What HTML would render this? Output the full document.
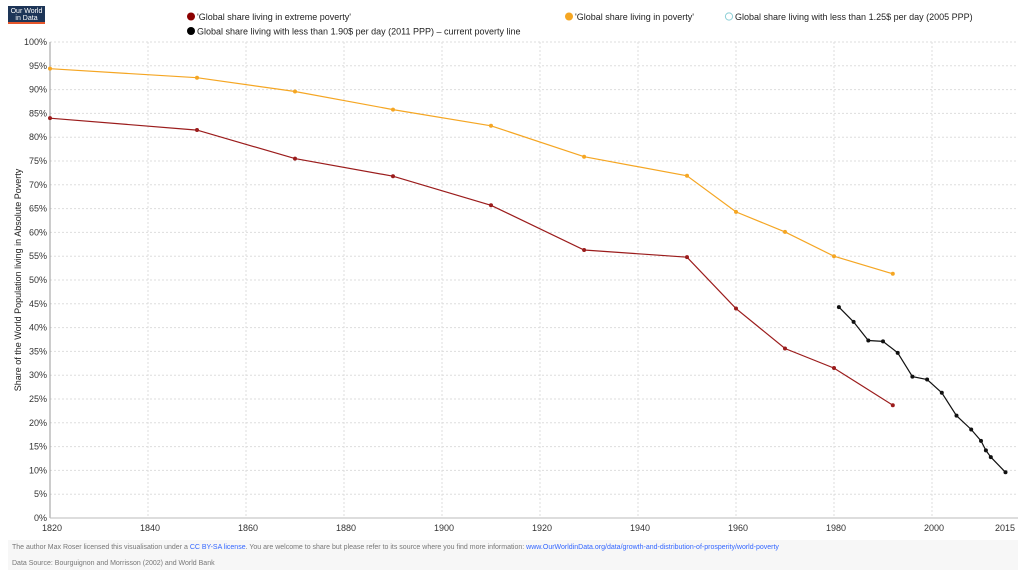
<!DOCTYPE html>
<html><head><meta charset="utf-8"><style>
body{margin:0;background:#fff;font-family:"Liberation Sans",sans-serif;}
svg text{font-family:"Liberation Sans",sans-serif;}
</style></head><body>
<svg id="s" width="1024" height="576" xmlns="http://www.w3.org/2000/svg">
<rect x="8" y="6" width="37" height="18" fill="#1d3557"/>
<rect x="8" y="22" width="37" height="2" fill="#e5562b"/>
<text x="26.5" y="13" font-size="7" fill="#fff" text-anchor="middle">Our World</text>
<text x="26.5" y="20" font-size="7" fill="#fff" text-anchor="middle">in Data</text>
<circle cx="191" cy="16.5" r="4" fill="#8b0000"/><text x="197" y="20" font-size="9" fill="#222">'Global share living in extreme poverty'</text>
<circle cx="191" cy="31" r="4" fill="#000"/><text x="197" y="34.5" font-size="9" fill="#222">Global share living with less than 1.90$ per day (2011 PPP) – current poverty line</text>
<circle cx="569" cy="16.5" r="4" fill="#f5a623"/><text x="575" y="20" font-size="9" fill="#222">'Global share living in poverty'</text>
<circle cx="729" cy="16.5" r="3.6" fill="#fff" stroke="#8ccfd6" stroke-width="1"/><text x="735" y="20" font-size="9" fill="#222">Global share living with less than 1.25$ per day (2005 PPP)</text>
<text transform="translate(21,280) rotate(-90)" font-size="9" fill="#222" text-anchor="middle">Share of the World Population living in Absolute Poverty</text>
<rect x="8" y="540" width="1010" height="30" fill="#f7f7f7"/>
<text x="12" y="549" font-size="7" fill="#777">The author Max Roser licensed this visualisation under a <tspan fill="#3366ff">CC BY-SA license</tspan>. You are welcome to share but please refer to its source where you find more information: <tspan fill="#3366ff">www.OurWorldinData.org/data/growth-and-distribution-of-prosperity/world-poverty</tspan></text>
<text x="12" y="565" font-size="7" fill="#777">Data Source: Bourguignon and Morrisson (2002) and World Bank</text>
<g id="g"></g>
</svg>
<script>
var g=document.getElementById('g'),h='';
function X(y){return 50+(y-1820)*4.9}
function Y(v){return 518-v*4.76}
for(var i=0;i<=20;i++){var v=i*5,y=Y(v);h+='<line x1="50" x2="1018" y1="'+y+'" y2="'+y+'" stroke="#ddd" stroke-dasharray="2,2"/>';h+='<text x="47" y="'+(y+3)+'" font-size="9" fill="#333" text-anchor="end">'+v+'%</text>';}
[1820,1840,1860,1880,1900,1920,1940,1960,1980,2000].forEach(function(t){var x=X(t);h+='<line x1="'+x+'" x2="'+x+'" y1="42" y2="518" stroke="#ddd" stroke-dasharray="2,2"/>';h+='<text x="'+(x+2)+'" y="531" font-size="9" fill="#333" text-anchor="middle">'+t+'</text>';});
h+='<text x="1005" y="531" font-size="9" fill="#333" text-anchor="middle">2015</text>';
h+='<line x1="50" x2="50" y1="42" y2="518" stroke="#999"/><line x1="50" x2="1018" y1="518" y2="518" stroke="#bbb"/>';
function ser(d,c){var p=d.map(function(a){return X(a[0]).toFixed(1)+','+Y(a[1]).toFixed(1)}).join(' ');h+='<polyline points="'+p+'" fill="none" stroke="'+c+'" stroke-width="1.2"/>';d.forEach(function(a){h+='<circle cx="'+X(a[0])+'" cy="'+Y(a[1])+'" r="2" fill="'+c+'"/>'});}
ser([[1820,94.4],[1850,92.5],[1870,89.6],[1890,85.8],[1910,82.4],[1929,75.9],[1950,71.9],[1960,64.3],[1970,60.1],[1980,55],[1992,51.3]],'#f5a623');
ser([[1820,84],[1850,81.5],[1870,75.5],[1890,71.8],[1910,65.7],[1929,56.3],[1950,54.8],[1960,44],[1970,35.6],[1980,31.5],[1992,23.7]],'#9b1c1c');
ser([[1981,44.3],[1984,41.2],[1987,37.3],[1990,37.1],[1993,34.7],[1996,29.7],[1999,29.1],[2002,26.3],[2005,21.5],[2008,18.6],[2010,16.2],[2011,14.2],[2012,12.8],[2015,9.6]],'#111');
g.innerHTML=h;
</script>
</body></html>
